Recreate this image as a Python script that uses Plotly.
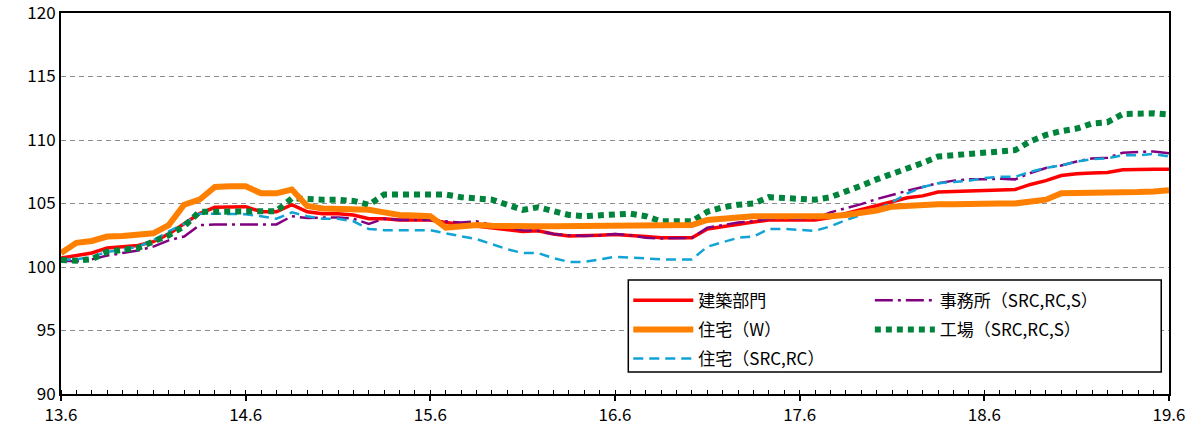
import plotly.graph_objects as go

# x-axis: monthly from 2013.6 to 2019.6 (73 months)
tick_labels = ["13.6", "14.6", "15.6", "16.6", "17.6", "18.6", "19.6"]
n_months = 73
months = list(range(n_months))

kenchiku = [100.7, 100.9, 101.1, 101.5, 101.6, 101.7, 102.0, 102.6, 103.4, 104.2,
            104.7, 104.75, 104.75, 104.35, 104.35, 104.9, 104.35, 104.2, 104.2, 104.1,
            103.8, 103.8, 103.7, 103.7, 103.7, 103.5, 103.35, 103.2, 103.1, 102.95,
            102.8, 102.85, 102.6, 102.45, 102.45, 102.5, 102.55, 102.5, 102.4, 102.3,
            102.3, 102.3, 103.0, 103.2, 103.4, 103.55, 103.7, 103.7, 103.7, 103.7,
            103.9, 104.2, 104.5, 104.8, 105.1, 105.45, 105.6, 105.9, 105.95, 106.0,
            106.05, 106.1, 106.1, 106.5, 106.8, 107.2, 107.35, 107.4, 107.45, 107.65,
            107.7, 107.7, 107.7]

jutaku_w = [101.1, 101.9, 102.05, 102.4, 102.45, 102.5, 102.65, 103.3, 104.9, 105.3,
            106.3, 106.35, 106.35, 105.8, 105.8, 106.1, 104.8, 104.6, 104.55, 104.55,
            104.5, 104.3, 104.1, 104.05, 104.0, 103.1, 103.2, 103.3, 103.25, 103.2,
            103.2, 103.2, 103.2, 103.2, 103.2, 103.2, 103.2, 103.2, 103.2, 103.2,
            103.2, 103.3, 103.7, 103.85, 103.9, 104.0, 104.0, 104.0, 103.95, 103.9,
            104.0, 104.1, 104.25, 104.45, 104.75, 104.85, 104.9, 104.95, 104.95, 105.0,
            105.0, 105.0, 105.0, 105.15, 105.3, 105.8, 105.8, 105.85, 105.85, 105.9,
            105.9, 105.95, 106.05]

jutaku_rc = [100.6, 100.6, 100.8, 101.2, 101.35, 101.6, 102.1, 102.8, 103.4, 104.2,
             104.2, 104.2, 104.15, 104.0, 103.8, 104.3, 104.0, 103.8, 103.8, 103.6,
             103.0, 102.9, 102.9, 102.9, 102.9, 102.65, 102.4, 102.2, 101.8, 101.4,
             101.1, 101.1, 100.7, 100.4, 100.4, 100.6, 100.8, 100.75, 100.65, 100.6,
             100.6, 100.6, 101.6, 101.95, 102.3, 102.4, 103.0, 103.0, 102.9, 102.85,
             103.2, 103.7, 104.1, 104.5, 105.1, 105.8, 106.3, 106.6, 106.7, 106.8,
             107.0, 107.1, 107.1, 107.5, 107.8, 108.0, 108.3, 108.5, 108.55, 108.8,
             108.8, 108.9, 108.7]

jimusho = [100.5, 100.45, 100.6, 100.9, 101.1, 101.3, 101.6, 102.1, 102.4, 103.3,
           103.35, 103.35, 103.35, 103.3, 103.35, 104.0, 103.85, 103.9, 103.9, 103.8,
           103.4, 103.8, 103.7, 103.7, 103.7, 103.6, 103.5, 103.6, 103.3, 103.1,
           102.9, 102.85, 102.6, 102.5, 102.45, 102.5, 102.6, 102.5, 102.3, 102.25,
           102.3, 102.3, 103.1, 103.3, 103.5, 103.6, 103.8, 103.8, 103.8, 103.8,
           104.3, 104.6, 104.95, 105.35, 105.7, 106.0, 106.3, 106.6, 106.8, 106.9,
           106.9, 106.95, 106.9, 107.4, 107.8, 108.0, 108.3, 108.55, 108.6, 109.0,
           109.05, 109.1, 108.95]

kojo = [100.55, 100.5, 100.6, 101.2, 101.35, 101.5, 102.0, 102.5, 103.2, 104.35,
        104.35, 104.35, 104.35, 104.35, 104.4, 105.4, 105.3, 105.3, 105.3, 105.2,
        104.9, 105.7, 105.7, 105.7, 105.7, 105.7, 105.5, 105.4, 105.3, 104.9,
        104.5, 104.7, 104.4, 104.1, 104.0, 104.1, 104.2, 104.2, 104.0, 103.6,
        103.6, 103.6, 104.35, 104.7, 104.9, 105.0, 105.5, 105.4, 105.35, 105.3,
        105.5, 105.9, 106.4, 106.9, 107.3, 107.8, 108.2, 108.7, 108.8, 108.9,
        109.0, 109.1, 109.2, 109.9, 110.4, 110.7, 110.9, 111.3, 111.4, 112.05,
        112.1, 112.1, 112.0]

names = ["建築部門", "住宅（W）", "住宅（SRC,RC）", "事務所（SRC,RC,S）", "工場（SRC,RC,S）"]

FONT = "Noto Sans CJK JP"
fig = go.Figure()

# drawing order: red, purple, cyan, green, orange
fig.add_trace(go.Scatter(x=months, y=kenchiku, name=names[0], mode="lines",
                         line=dict(color="#FF0000", width=3.5), legend="legend",
                         legendrank=1, legendgroup="a"))
fig.add_trace(go.Scatter(x=months, y=jimusho, name=names[3], mode="lines",
                         line=dict(color="#800080", width=2.5, dash="18px,5px,3px,5px"),
                         legend="legend2", legendrank=1, legendgroup="d"))
fig.add_trace(go.Scatter(x=months, y=jutaku_rc, name=names[2], mode="lines",
                         line=dict(color="#12A3D5", width=2.5, dash="10px,6px"),
                         legend="legend", legendrank=3, legendgroup="c"))
fig.add_trace(go.Scatter(x=months, y=kojo, name=names[4], mode="lines",
                         line=dict(color="#00843C", width=6, dash="6px,5px"),
                         legend="legend2", legendrank=2, legendgroup="e"))
fig.add_trace(go.Scatter(x=months, y=jutaku_w, name=names[1], mode="lines",
                         line=dict(color="#FF8000", width=6),
                         legend="legend", legendrank=2, legendgroup="b"))

# legend box (white, bordered)
fig.add_shape(type="rect", xref="paper", yref="paper", x0=0.512, x1=0.993,
              y0=0.058, y1=0.299, fillcolor="white", line=dict(color="black", width=1.5),
              layer="above")

legend_common = dict(bgcolor="rgba(0,0,0,0)", borderwidth=0, font=dict(family=FONT, size=17, color="black"),
                     traceorder="grouped", tracegroupgap=4, itemwidth=60, yanchor="top",
                     xanchor="left", orientation="v")
fig.update_layout(
    width=1196, height=427,
    margin=dict(l=61, r=27, t=13, b=33, autoexpand=False),
    plot_bgcolor="white", paper_bgcolor="white",
    font=dict(family=FONT, size=17, color="black"),
    showlegend=True,
    legend=dict(x=0.512, y=0.292, **legend_common),
    legend2=dict(x=0.73, y=0.292, **legend_common),
    xaxis=dict(range=[0, n_months - 1], tickvals=list(range(0, n_months, 12)), ticktext=tick_labels,
               showgrid=False, zeroline=False, showline=True, linecolor="black", linewidth=2,
               mirror=True, ticks="outside", ticklen=5, tickwidth=1.5, tickcolor="black",
               minor=dict(dtick=1, tick0=0, ticks="inside", ticklen=4, tickwidth=1, tickcolor="black"),
               tickfont=dict(family=FONT, size=17), automargin=False, ticklabeloverflow="allow"),
    yaxis=dict(range=[90, 120], dtick=5, tick0=90, showgrid=True, gridcolor="#8C8C8C", gridwidth=1,
               griddash="5px,4px", zeroline=False, showline=True, linecolor="black", linewidth=2,
               mirror=True, ticks="", tickfont=dict(family=FONT, size=17), automargin=False,
               ticklabeloverflow="allow"),
)

# remove the browser's default 8px body margin so the figure sits at the page origin
fig.write_html("out.html", config={"displayModeBar": False},
               post_script="document.body.style.margin='0';")
